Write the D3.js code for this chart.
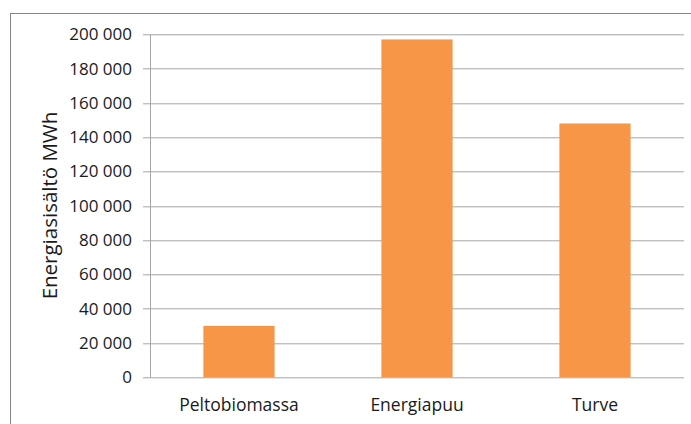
<!DOCTYPE html>
<html>
<head>
<meta charset="utf-8">
<script src="https://cdn.jsdelivr.net/npm/d3@7"></script>
<style>
  body { margin: 0; background: #fff; }
  svg { display: block; }
</style>
</head>
<body>
<div id="chart"></div>
<script>
var categories = ['Peltobiomassa', 'Energiapuu', 'Turve']
var values = [30000, 197000, 148000]
var yTicks = [0, 20000, 40000, 60000, 80000, 100000, 120000, 140000, 160000, 180000, 200000]
var yTitle = 'Energiasisältö MWh'

var width = 691
var height = 424
var marginLeft = 150
var marginRight = 7
var marginTop = 34.3
var marginBottom = 46.7
var W = width - marginLeft - marginRight
var H = height - marginTop - marginBottom
var font = 'Open Sans, Noto Sans, sans-serif'

var svg = d3.select('#chart').append('svg')
    .attr('width', width)
    .attr('height', height)

// outer frame
svg.append('rect')
    .attr('x', 10.5)
    .attr('y', 13.5)
    .attr('width', width)
    .attr('height', height)
    .attr('fill', 'none')
    .attr('stroke', '#868686')
    .attr('stroke-width', 1)

var rootG = svg.append('g')
    .attr('transform', 'translate(' + marginLeft + ',' + marginTop + ')')

var X = d3.scaleBand().domain(categories).range([0, W]).paddingInner(0.6).paddingOuter(0.3)
var Y = d3.scaleLinear().domain([0, 200000]).range([H, 0])

var fmt = function (d) { return d3.format(',')(d).replace(/,/g, ' ') }

// gridlines
rootG.append('g')
    .attr('class', 'grid')
    .selectAll('line')
    .data(yTicks)
    .enter()
    .append('line')
    .attr('x1', -7)
    .attr('x2', W)
    .attr('y1', function (d) { return Math.round(Y(d)) + 0.5 })
    .attr('y2', function (d) { return Math.round(Y(d)) + 0.5 })
    .attr('stroke', '#a6a6a6')
    .attr('stroke-width', 1)

// y axis
var yAxisG = rootG.append('g')
    .attr('class', 'yAxis')
    .call(d3.axisLeft(Y).tickValues(yTicks).tickFormat(fmt).tickSize(0).tickPadding(18))
yAxisG.select('.domain').remove()
yAxisG.selectAll('text')
    .attr('font-size', 17)
    .attr('font-family', font)
    .attr('fill', '#1a1a1a')

rootG.append('line')
    .attr('x1', 0.5)
    .attr('x2', 0.5)
    .attr('y1', 0)
    .attr('y2', H)
    .attr('stroke', '#a6a6a6')

// bars
rootG.append('g')
    .attr('class', 'bars')
    .selectAll('rect')
    .data(values)
    .enter()
    .append('rect')
    .attr('x', function (d, i) { return X(categories[i]) })
    .attr('y', function (d) { return Y(d) })
    .attr('width', X.bandwidth())
    .attr('height', function (d) { return H - Y(d) })
    .attr('fill', '#f79646')

// x axis labels
var xAxisG = rootG.append('g')
    .attr('class', 'xAxis')
    .attr('transform', 'translate(0,' + H + ')')
    .call(d3.axisBottom(X).tickSize(0).tickPadding(21))
xAxisG.select('.domain').remove()
xAxisG.selectAll('text')
    .attr('font-size', 17.5)
    .attr('font-family', font)
    .attr('fill', '#1a1a1a')

// y title
svg.append('text')
    .attr('transform', 'translate(57,' + 205.5 + ') rotate(-90)')
    .attr('text-anchor', 'middle')
    .attr('font-size', 20.5)
    .attr('font-family', font)
    .attr('fill', '#1a1a1a')
    .text(yTitle)
</script>
</body>
</html>
